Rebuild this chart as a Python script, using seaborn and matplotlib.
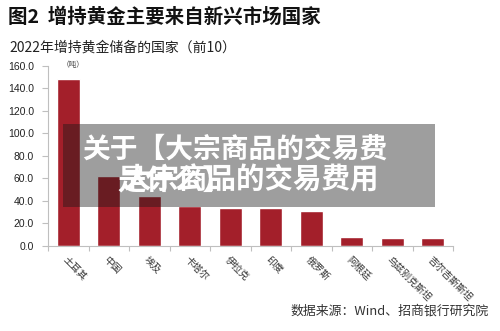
import matplotlib
matplotlib.use("Agg")
import matplotlib.pyplot as plt
import seaborn as sns
import pandas as pd
from matplotlib.patches import Rectangle
from matplotlib.ticker import FixedLocator

countries = ["土耳其", "中国", "埃及", "卡塔尔", "伊拉克", "印度",
             "俄罗斯", "阿根廷", "乌兹别克斯坦", "吉尔吉斯斯坦"]
tonnes = [148.0, 62.2, 44.8, 35.3, 34.0, 33.5, 31.3, 7.7, 6.9, 6.9]
y_ticks = [0, 20, 40, 60, 80, 100, 120, 140, 160]

df = pd.DataFrame({"country": countries, "tonnes": tonnes})

sns.set_style("white")
plt.rcParams["font.family"] = ["Noto Sans CJK SC", "DejaVu Sans"]

fig = plt.figure(figsize=(5.0, 3.31), dpi=100)
ax = fig.add_axes([0.096, 0.257, 0.81, 0.544])

sns.barplot(data=df, x="country", y="tonnes", color="#A31F2A",
            saturation=1, width=0.56, ax=ax)

ax.set_xlim(-0.5, len(countries) - 0.5)
ax.set_ylim(0, 160)
ax.set_yticks(y_ticks)
ax.set_yticklabels([f"{v:.1f}" for v in y_ticks], family="Liberation Sans",
                   fontsize=7.5, color="#222222")
ax.set_xlabel("")
ax.set_ylabel("")

for s in ["top", "right"]:
    ax.spines[s].set_visible(False)
for s in ["left", "bottom"]:
    ax.spines[s].set_color("#bfbfbf")
    ax.spines[s].set_linewidth(0.8)

ax.tick_params(axis="y", left=True, length=4, width=0.8, color="#bfbfbf", pad=6)
ax.tick_params(axis="x", which="major", length=0)
ax.xaxis.set_minor_locator(FixedLocator([i - 0.5 for i in range(len(countries) + 1)]))
ax.tick_params(axis="x", which="minor", bottom=True, length=3.5, width=0.8, color="#bfbfbf")

ax.set_xticks(range(len(countries)))
ax.set_xticklabels(countries, rotation=-45, ha="left", va="top",
                   rotation_mode="anchor", fontsize=7, color="#333333")
ax.tick_params(axis="x", pad=6)

fig.text(0.016, 0.948, "图2  增持黄金主要来自新兴市场国家", fontsize=14,
         fontweight="bold", color="#111111", va="center")
fig.text(0.018, 0.855, "2022年增持黄金储备的国家（前10）", fontsize=10,
         color="#222222", va="center")
fig.text(0.124, 0.803, "（吨）", fontsize=5.5, color="#444444", va="center")
fig.text(0.978, 0.06, "数据来源：Wind、招商银行研究院", fontsize=9.3,
         color="#333333", ha="right", va="center")

# semi-transparent overlay banner
fig.patches.append(Rectangle((0.126, 0.375), 0.744, 0.251, transform=fig.transFigure,
                             facecolor="#191919", alpha=0.42, edgecolor="none", zorder=5))
fig.text(0.47, 0.547, "关于【大宗商品的交易费", fontsize=20, fontweight="bold",
         color="white", ha="center", va="center", zorder=6)
fig.text(0.502, 0.456, "大宗商品的交易费用", fontsize=20.5, fontweight="bold",
         color="white", ha="center", va="center", zorder=6)
fig.text(0.234, 0.456, "是什么】", fontsize=20.5, fontweight="bold",
         color="white", ha="left", va="center", zorder=6)

fig.savefig("out.png", dpi=100)
